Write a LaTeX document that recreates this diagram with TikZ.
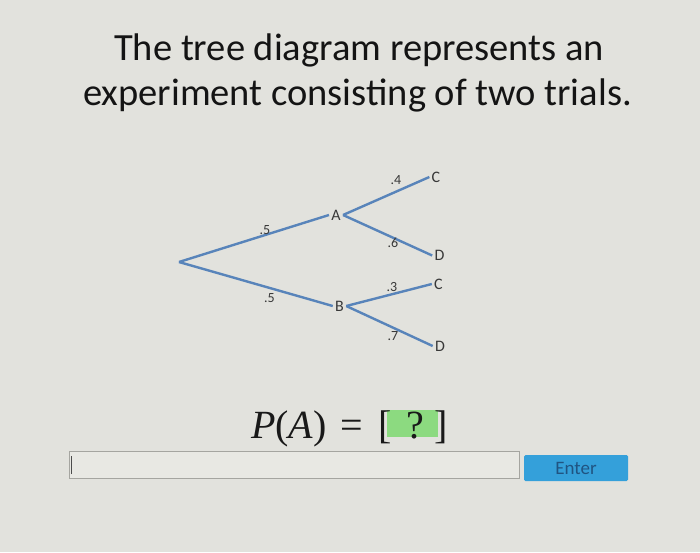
\documentclass[tikz,border=0pt]{standalone}
\usepackage{fontspec}
\setmainfont{Carlito}
\newfontfamily\qfont{Liberation Serif}
\definecolor{bgc}{RGB}{226,226,221}
\definecolor{treeblue}{RGB}{88,132,186}
\definecolor{qgreen}{RGB}{140,218,128}
\definecolor{btnblue}{RGB}{52,160,218}
\definecolor{entertxt}{RGB}{32,84,130}
\definecolor{fieldc}{RGB}{232,232,227}
\definecolor{fieldborder}{RGB}{165,165,160}
\begin{document}
\begin{tikzpicture}[x=1pt,y=-1pt,
  branch/.style={draw=treeblue, line width=2.4pt},
  vlbl/.style={font=\fontsize{16}{18}\selectfont, text=black!78, inner sep=2.2pt},
  plbl/.style={font=\fontsize{14}{16}\selectfont, text=black!78, inner sep=0pt},
  titleline/.style={font=\fontsize{38.5}{45}\selectfont, text=black!92, anchor=base, inner sep=0pt},
  qtxt/.style={font=\qfont\fontsize{40}{46}\selectfont, text=black!90, anchor=base, inner sep=0pt}]
\fill[bgc] (0,0) rectangle (700,552);
\useasboundingbox (0,0) rectangle (700,552);
% title
\node[titleline] (t1) at (359,60) {The tree diagram represents an};
\node[titleline] (t2) at (357.5,105) {experiment consisting of two trials.};
% tree
\coordinate (root) at (179,262);
\node[vlbl] (A) at (336,215) {A};
\node[vlbl] (B) at (339.5,306) {B};
\node[vlbl] (C1) at (436,177) {C};
\node[vlbl] (D1) at (439.5,255.5) {D};
\node[vlbl] (C2) at (438.5,284) {C};
\node[vlbl] (D2) at (440,346) {D};
\draw[branch] (root) -- (A.west);
\draw[branch] (root) -- (B.west);
\draw[branch] (A.east) -- (C1.west);
\draw[branch] (A.east) -- (D1.west);
\draw[branch] (B.east) -- (C2.west);
\draw[branch] (B.east) -- (D2.west);
% probabilities
\node[plbl] (p1) at (265,230) {.5};
\node[plbl] (p2) at (269.5,298) {.5};
\node[plbl] (p3) at (396,180.5) {.4};
\node[plbl] (p4) at (393,242.5) {.6};
\node[plbl] (p5) at (392,287.5) {.3};
\node[plbl] (p6) at (393,336.5) {.7};
% question
\fill[qgreen] (387,410) rectangle (438,437);
\node[qtxt, anchor=base west] (pa) at (251,438) {\textit{P}(\textit{A})};
\node[qtxt] (eq) at (352,438) {=};
\node[qtxt] (lb) at (385,438) {[};
\node[qtxt] (qm) at (415,438) {?};
\node[qtxt] (rb) at (441,438) {]};
% input field and button
\node[draw=fieldborder, line width=1pt, fill=fieldc, minimum width=450pt, minimum height=27pt, inner sep=0pt] (field) at (294,465) {};
\draw[black!70, line width=0.8pt] ([xshift=3pt,yshift=-9pt]field.west) -- ([xshift=3pt,yshift=9pt]field.west);
\node[fill=btnblue, rounded corners=1.5pt, minimum width=104pt, minimum height=26pt, inner sep=0pt, text=entertxt, font=\fontsize{19}{22}\selectfont] (enter) at (576,468) {Enter};
\end{tikzpicture}
\end{document}
